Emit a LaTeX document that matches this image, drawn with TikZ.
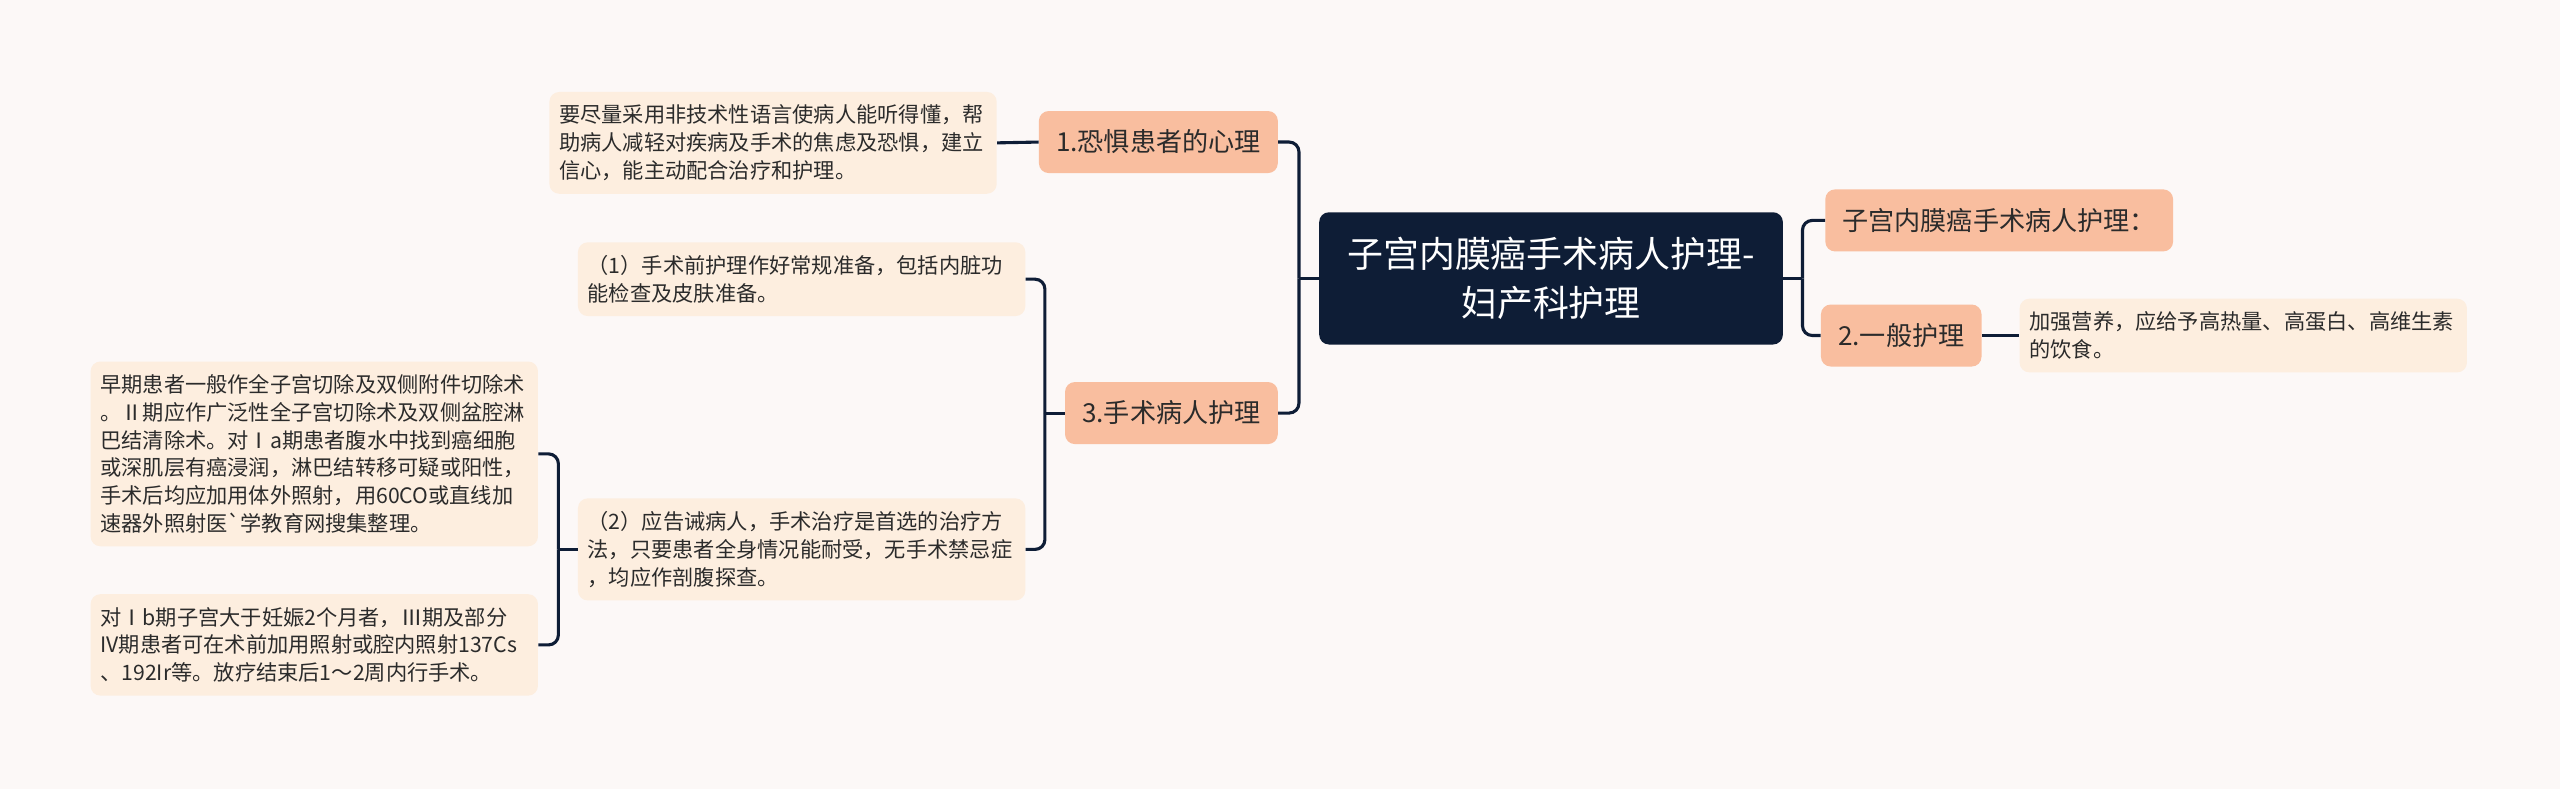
\documentclass[tikz,border=0pt]{standalone}
\usepackage{fontspec}
\setmainfont{Noto Sans CJK SC}[Ligatures=TeXOff]
\usepackage{tikz}
\definecolor{bgc}{HTML}{FCF8F7}
\definecolor{hubc}{HTML}{0E1D36}
\definecolor{topicc}{HTML}{F9BE9F}
\definecolor{notec}{HTML}{FDEEDF}
\definecolor{inkc}{HTML}{2B2B2B}

\begin{document}
\begin{tikzpicture}[x=1pt,y=-1pt,
  hub/.style={fill=hubc,text=white,rounded corners=6pt,align=center,
    minimum width=284pt,minimum height=81pt,font=\fontsize{22}{30}\selectfont},
  topic/.style={fill=topicc,text=inkc,rounded corners=6pt,minimum height=38pt,
    inner xsep=10.5pt,font=\fontsize{16}{20}\selectfont},
  note/.style={fill=notec,text=inkc,rounded corners=6pt,text width=262pt,align=left,
    inner xsep=6pt,inner ysep=8pt,font=\fontsize{13}{17}\selectfont},
  wire/.style={draw=hubc,line width=1.9pt,rounded corners=6pt}]
  \fill[bgc] (0,0) rectangle (1568,483);
  \useasboundingbox (0,0) rectangle (1568,483);
  % centre
  \node[hub] (hub) at (950,170.5) {子宫内膜癌手术病人护理-\\妇产科护理};
  % left side
  \node[topic] (fear) at (709.5,87) {1.恐惧患者的心理};
  \node[note] (fearnote) at (473.5,87.5) {要尽量采用非技术性语言使病人能听得懂，帮\\助病人减轻对疾病及手术的焦虑及恐惧，建立\\信心，能主动配合治疗和护理。};
  \node[topic] (surg) at (717.5,253) {3.手术病人护理};
  \node[note] (prep) at (491,171) {（1）手术前护理作好常规准备，包括内脏功\\能检查及皮肤准备。};
  \node[note] (warn) at (491,336.5) {（2）应告诫病人，手术治疗是首选的治疗方\\法，只要患者全身情况能耐受，无手术禁忌症\\，均应作剖腹探查。};
  \node[note] (early) at (192.5,278) {早期患者一般作全子宫切除及双侧附件切除术\\。Ⅱ期应作广泛性全子宫切除术及双侧盆腔淋\\巴结清除术。对Ⅰa期患者腹水中找到癌细胞\\或深肌层有癌浸润，淋巴结转移可疑或阳性，\\手术后均应加用体外照射，用60CO或直线加\\速器外照射医`学教育网搜集整理。};
  \node[note] (late) at (192.5,395) {对Ⅰb期子宫大于妊娠2个月者，Ⅲ期及部分\\IV期患者可在术前加用照射或腔内照射137Cs\\、192Ir等。放疗结束后1～2周内行手术。};
  % right side
  \node[topic] (title) at (1224.5,135) {子宫内膜癌手术病人护理：};
  \node[topic] (gen) at (1164.5,205.5) {2.一般护理};
  \node[note] (diet) at (1374,205.5) {加强营养，应给予高热量、高蛋白、高维生素\\的饮食。};
  % brackets
  \coordinate (jl) at (795.6,170.5);
  \coordinate (js) at (640,253);
  \coordinate (jw) at (342,336.5);
  \coordinate (jr) at (1104,170.5);
  \draw[wire] (hub.west) -- (jl);
  \draw[wire] (jl) |- (fear.east);
  \draw[wire] (jl) |- (surg.east);
  \draw[wire] (fear.west) -- (fearnote.east);
  \draw[wire] (surg.west) -- (js);
  \draw[wire] (js) |- (prep.east);
  \draw[wire] (js) |- (warn.east);
  \draw[wire] (warn.west) -- (jw);
  \draw[wire] (jw) |- (early.east);
  \draw[wire] (jw) |- (late.east);
  \draw[wire] (hub.east) -- (jr);
  \draw[wire] (jr) |- (title.west);
  \draw[wire] (jr) |- (gen.west);
  \draw[wire] (gen.east) -- (diet.west);
\end{tikzpicture}
\end{document}
